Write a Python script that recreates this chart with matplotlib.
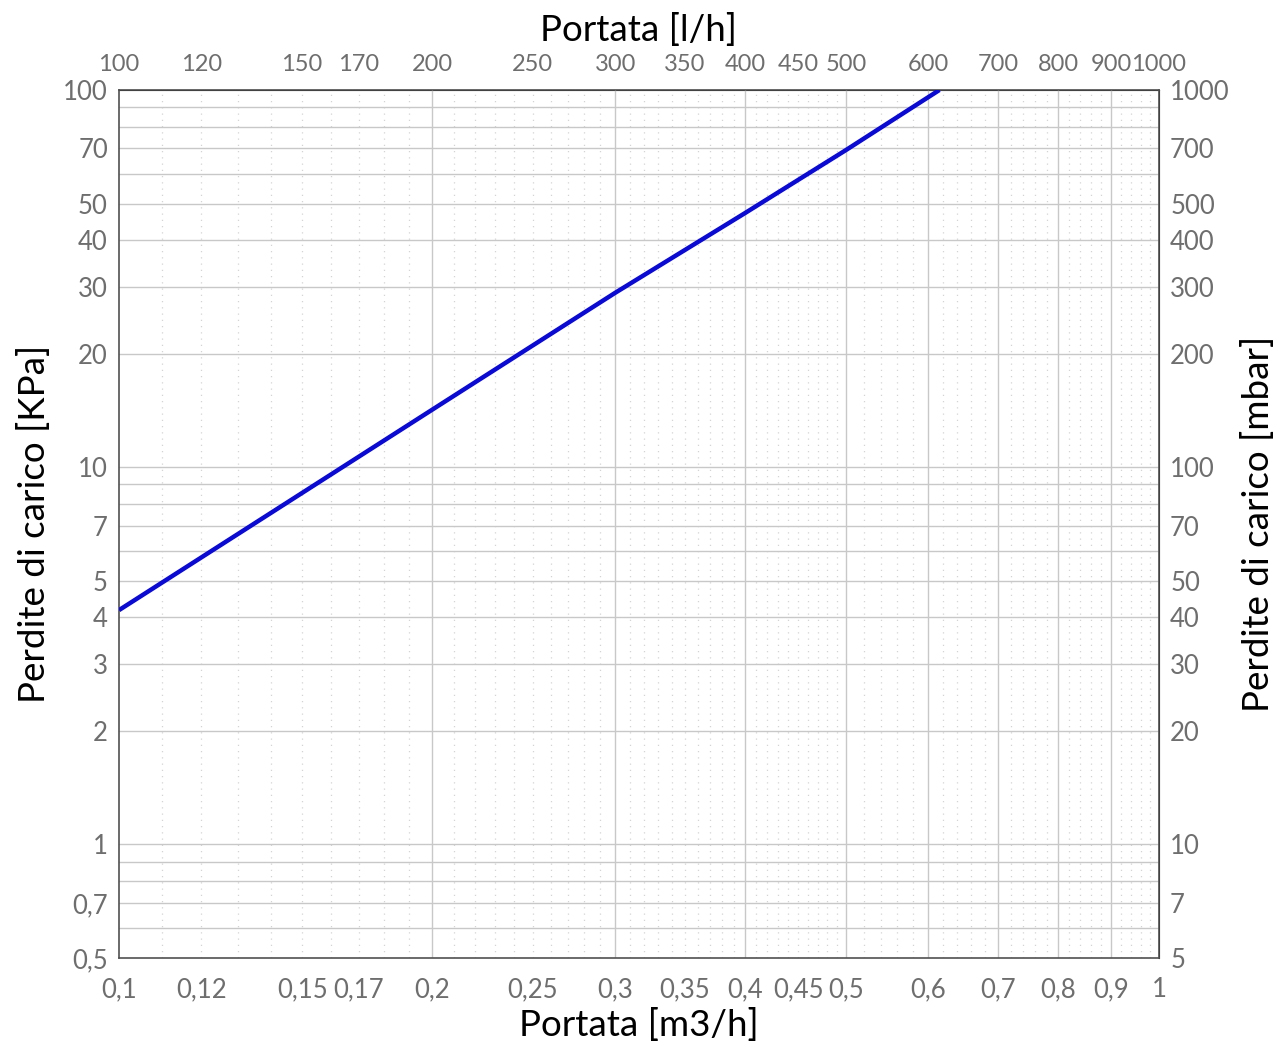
import numpy as np
import matplotlib.pyplot as plt
from matplotlib.ticker import FixedLocator, FixedFormatter

# Data
portata = [0.1, 0.2, 0.3, 0.4, 0.5, 0.615]     # m3/h
perdite = [4.18, 14.2, 29.0, 47.2, 69.3, 100.0]  # kPa

x_ticks = [0.1, 0.12, 0.15, 0.17, 0.2, 0.25, 0.3, 0.35, 0.4, 0.45, 0.5, 0.6, 0.7, 0.8, 0.9, 1]
x_labels = ['0,1', '0,12', '0,15', '0,17', '0,2', '0,25', '0,3', '0,35', '0,4', '0,45', '0,5',
            '0,6', '0,7', '0,8', '0,9', '1']
top_ticks = [100, 120, 150, 170, 200, 250, 300, 350, 400, 450, 500, 600, 700, 800, 900, 1000]
y_ticks = [0.5, 0.7, 1, 2, 3, 4, 5, 7, 10, 20, 30, 40, 50, 70, 100]
y_labels = ['0,5', '0,7', '1', '2', '3', '4', '5', '7', '10', '20', '30', '40', '50', '70', '100']
right_ticks = [5, 7, 10, 20, 30, 40, 50, 70, 100, 200, 300, 400, 500, 700, 1000]

plt.rcParams['font.family'] = ['Lato', 'DejaVu Sans']
tick_col = '#6e6e6e'
tsize = 18.5
lsize = 26.5

fig = plt.figure(figsize=(12.84, 10.44), dpi=100)
ax = fig.add_axes([119 / 1284, 1 - 958 / 1044, 1040 / 1284, 868 / 1044])
ax.set_xscale('log')
ax.set_yscale('log')
ax.set_xlim(0.1, 1)
ax.set_ylim(0.5, 100)

# grid: solid lines at major values, dotted fine lines in between
vmajor = [0.2, 0.3, 0.4, 0.5, 0.6, 0.7, 0.8, 0.9]
hmajor = [v * d for d in (0.1, 1, 10) for v in range(1, 10)]
vminor = list(np.arange(0.11, 0.5, 0.01)) + list(np.arange(0.52, 1.0, 0.02))
for v in vminor:
    if min(abs(v - m) for m in vmajor) > 1e-6:
        ax.axvline(v, color='#d4d4d4', lw=0.9, ls=(0, (1, 4)), zorder=0)
for v in vmajor:
    ax.axvline(v, color='#c8c8c8', lw=1.0, zorder=1)
for h in hmajor:
    if 0.5 < h < 100:
        ax.axhline(h, color='#c8c8c8', lw=1.0, zorder=1)

ax.plot(portata, perdite, color='#0a0ad2', lw=3.2, zorder=3, solid_capstyle='butt')

ax.xaxis.set_major_locator(FixedLocator(x_ticks))
ax.xaxis.set_major_formatter(FixedFormatter(x_labels))
ax.xaxis.set_minor_locator(FixedLocator([]))
ax.yaxis.set_major_locator(FixedLocator(y_ticks))
ax.yaxis.set_major_formatter(FixedFormatter(y_labels))
ax.yaxis.set_minor_locator(FixedLocator([]))
ax.tick_params(axis='x', length=0, labelsize=tsize, colors=tick_col, pad=14)
ax.tick_params(axis='y', length=0, labelsize=tsize, colors=tick_col, pad=8)

for s in ax.spines.values():
    s.set_color('#505050')
    s.set_linewidth(1.2)

ax.set_xlabel('Portata [m3/h]', fontsize=lsize, labelpad=4)
ax.set_ylabel('Perdite di carico [KPa]', fontsize=lsize, labelpad=9)

# top axis in l/h
top = ax.secondary_xaxis('top', functions=(lambda x: x * 1000, lambda x: x / 1000))
top.xaxis.set_major_locator(FixedLocator(top_ticks))
top.xaxis.set_major_formatter(FixedFormatter([str(t) for t in top_ticks]))
top.xaxis.set_minor_locator(FixedLocator([]))
top.tick_params(length=0, labelsize=17, colors=tick_col, pad=11)
top.set_xlabel('Portata [l/h]', fontsize=lsize, labelpad=9)

# right axis in mbar
right = ax.secondary_yaxis('right', functions=(lambda y: y * 10, lambda y: y / 10))
right.yaxis.set_major_locator(FixedLocator(right_ticks))
right.yaxis.set_major_formatter(FixedFormatter([str(t) for t in right_ticks]))
right.yaxis.set_minor_locator(FixedLocator([]))
right.tick_params(length=0, labelsize=tsize, colors=tick_col, pad=8)
right.set_ylabel('Perdite di carico [mbar]', fontsize=lsize, labelpad=8)

fig.savefig('out.png', dpi=100, facecolor='white')
